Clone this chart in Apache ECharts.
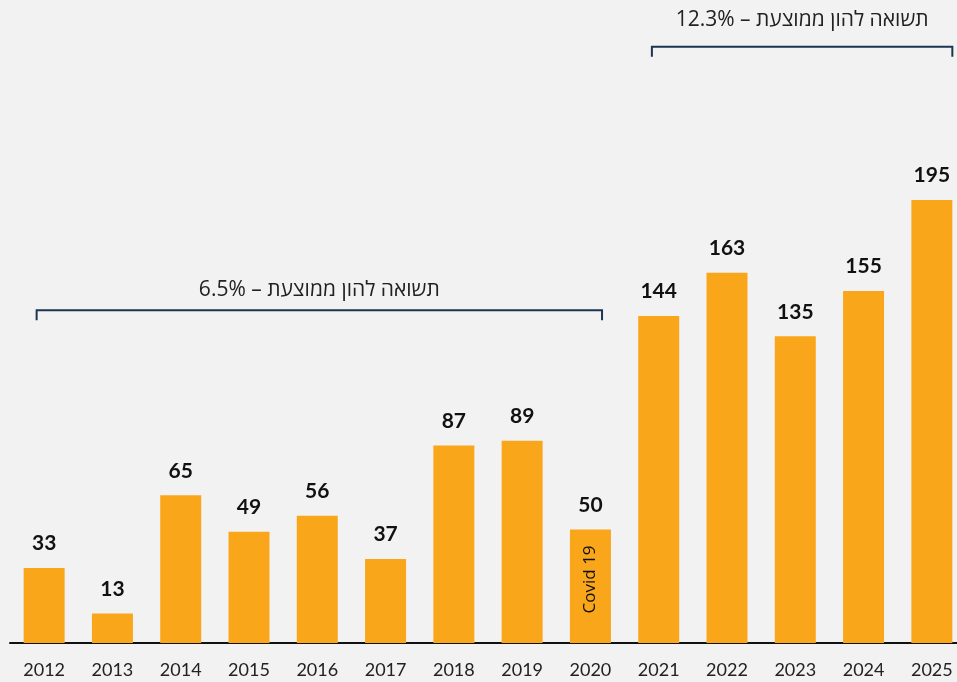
<!DOCTYPE html>
<html>
<head>
<meta charset="utf-8">
<script src="https://cdn.jsdelivr.net/npm/echarts@6/dist/echarts.min.js"></script>
<style>
  html, body { margin: 0; padding: 0; background: #f2f2f2; }
  #chart { width: 957px; height: 682px; }
</style>
</head>
<body>
<div id="chart"></div>
<script>
// data
const years = ['2012', '2013', '2014', '2015', '2016', '2017', '2018', '2019', '2020', '2021', '2022', '2023', '2024', '2025'];
const values = [33, 13, 65, 49, 56, 37, 87, 89, 50, 144, 163, 135, 155, 195];
const covidYear = '2020';
const covidText = 'Covid 19';
// brackets: from year, to year, level on value axis, caption
const bracketFrom = ['2012', '2021'];
const bracketTo = ['2020', '2025'];
const bracketLevel = [146.5, 262.5];
const bracketText = ['6.5% – תשואה להון ממוצעת', '12.3% – תשואה להון ממוצעת'];

const FONT = 'Lato, "Open Sans", "DejaVu Sans", sans-serif';
const CAPTION_FONT = '"Open Sans", "DejaVu Sans", sans-serif';
const bracketData = bracketFrom.map((f, i) => [years.indexOf(f), years.indexOf(bracketTo[i]), bracketLevel[i], bracketText[i]]);

let chart = echarts.init(document.getElementById('chart'));
chart.setOption({
  backgroundColor: '#f2f2f2',
  animation: false,
  grid: { left: 10, width: 956, top: 7, bottom: 39, containLabel: false, outerBoundsMode: 'none' },
  xAxis: {
    type: 'category',
    data: years,
    axisLine: { lineStyle: { color: '#111', width: 2 } },
    axisTick: { show: false },
    axisLabel: { color: '#222', fontSize: 18, fontFamily: FONT, margin: 18 }
  },
  yAxis: {
    type: 'value', min: 0, max: 280,
    show: false, splitLine: { show: false }
  },
  series: [
    {
      type: 'bar',
      data: values,
      barWidth: '60%',
      itemStyle: { color: '#faa61a' },
      label: {
        show: true, position: 'top', distance: 14,
        color: '#111', fontWeight: 'bold', fontSize: 21, fontFamily: FONT
      },
      markPoint: {
        symbol: 'rect', symbolSize: 1,
        itemStyle: { color: 'rgba(0,0,0,0)' },
        label: {
          show: true, position: 'inside', rotate: 90,
          color: '#111', fontSize: 17, fontFamily: CAPTION_FONT,
          formatter: covidText
        },
        data: [{ coord: [covidYear, 28] }]
      }
    },
    {
      type: 'custom',
      silent: true,
      data: bracketData,
      renderItem: function (params, api) {
        const band = api.size([1, 0])[0];
        const i = params.dataIndex;
        const offL = i === 0 ? -0.11 : -0.1;
        const offR = i === 0 ? 0.17 : 0.3;
        const p1 = api.coord([api.value(0), api.value(2)]);
        const p2 = api.coord([api.value(1), api.value(2)]);
        const x1 = p1[0] + offL * band;
        const x2 = p2[0] + offR * band;
        const y = p1[1];
        const style = { stroke: '#1c3552', lineWidth: 2, fill: null };
        return {
          type: 'group',
          children: [
            { type: 'polyline', shape: { points: [[x1, y + 10], [x1, y], [x2, y], [x2, y + 10]] }, style: style },
            {
              type: 'text',
              x: (x1 + x2) / 2, y: y - (i === 0 ? 20 : 27),
              style: {
                text: bracketData[i][3], fill: '#222', fontSize: 21, fontFamily: CAPTION_FONT,
                align: 'center', verticalAlign: 'middle'
              }
            }
          ]
        };
      }
    }
  ]
});
</script>
</body>
</html>
